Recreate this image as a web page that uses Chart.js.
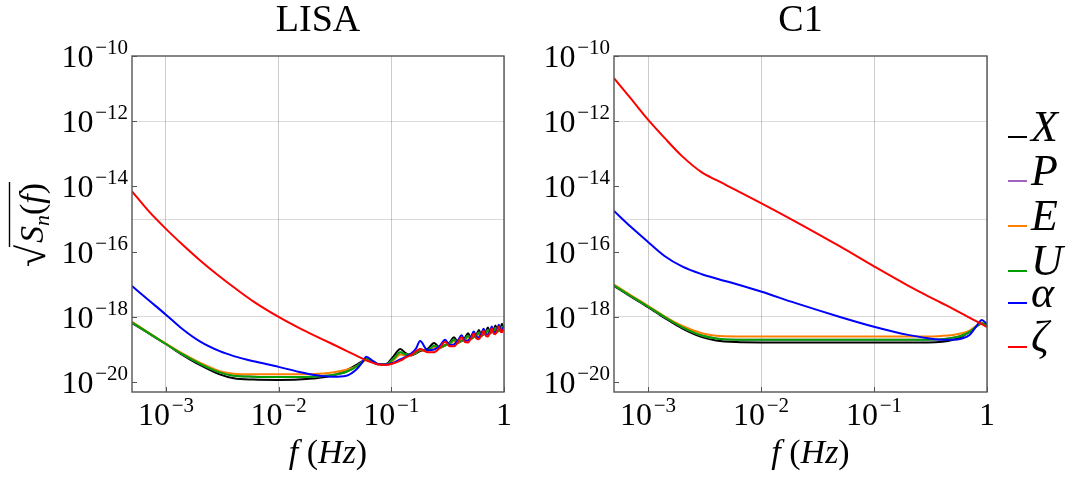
<!DOCTYPE html>
<html>
<head>
<meta charset="utf-8">
<script src="https://cdn.jsdelivr.net/npm/chart.js@4.4.1/dist/chart.umd.min.js"></script>
<style>
  html, body { margin: 0; padding: 0; background: #fff; }
  #wrap { position: relative; width: 1080px; height: 479px; }
  #wrap canvas { position: absolute; top: 0; }
</style>
</head>
<body>
<div id="wrap">
  <canvas id="lisa" width="540" height="479" style="left:0"></canvas>
  <canvas id="c1" width="540" height="479" style="left:540px"></canvas>
</div>
<script>
// TDI noise curves, values are log10 of sqrt(Sn(f))
const seriesNames = ['X', 'P', 'E', 'U', 'α', 'ζ'];
const seriesColors = ['#000000', '#a064bc', '#ff8000', '#00a000', '#0000ff', '#ff0000'];

const lisaFreq = [5e-4, 7e-4, 1e-3, 1.4e-3, 2e-3, 3e-3, 4e-3, 6e-3, 1e-2, 1.5e-2, 2e-2, 3e-2, 4e-2, 5e-2,
  0.055, 0.06, 0.068, 0.075, 0.09, 0.105, 0.12, 0.135, 0.15, 0.165, 0.18, 0.21, 0.24, 0.27, 0.30, 0.33,
  0.36, 0.39, 0.42, 0.45, 0.48, 0.51, 0.54, 0.57, 0.60, 0.63, 0.66, 0.69, 0.72, 0.75, 0.78, 0.81, 0.84,
  0.87, 0.90, 0.93, 0.96, 0.99, 1.0];
const lisaX = [-18.19, -18.50, -18.83, -19.16, -19.47, -19.76, -19.88, -19.92, -19.93, -19.92, -19.89, -19.80, -19.63, -19.45,
  -19.36, -19.30, -19.38, -19.45, -19.44, -19.20, -18.98, -19.12, -19.18, -19.12, -19.05, -18.98, -18.80, -18.94, -18.88, -18.78,
  -18.62, -18.78, -18.74, -18.64, -18.50, -18.66, -18.62, -18.54, -18.40, -18.57, -18.54, -18.46, -18.32, -18.50, -18.47, -18.40, -18.26,
  -18.44, -18.41, -18.35, -18.21, -18.38, -18.36];
const lisaU = [-18.17, -18.49, -18.83, -19.14, -19.43, -19.70, -19.80, -19.83, -19.84, -19.84, -19.83, -19.78, -19.68, -19.50,
  -19.38, -19.28, -19.36, -19.44, -19.45, -19.28, -19.08, -19.15, -19.15, -19.10, -19.00, -19.02, -18.88, -18.94, -18.86, -18.82,
  -18.70, -18.79, -18.72, -18.68, -18.58, -18.67, -18.60, -18.57, -18.48, -18.58, -18.52, -18.50, -18.40, -18.50, -18.45, -18.44, -18.34,
  -18.45, -18.40, -18.39, -18.30, -18.39, -18.38];
const lisaP = lisaU; // P runs under U
const lisaE = [-18.15, -18.48, -18.82, -19.12, -19.40, -19.66, -19.74, -19.76, -19.76, -19.76, -19.75, -19.70, -19.62, -19.50,
  -19.40, -19.32, -19.38, -19.45, -19.45, -19.32, -19.15, -19.18, -19.16, -19.10, -19.02, -19.04, -18.92, -18.96, -18.86, -18.84,
  -18.74, -18.80, -18.72, -18.70, -18.62, -18.68, -18.60, -18.59, -18.52, -18.59, -18.52, -18.52, -18.44, -18.51, -18.46, -18.46, -18.38,
  -18.46, -18.41, -18.41, -18.34, -18.40, -18.40];
const lisaAlpha = [-17.05, -17.48, -17.93, -18.37, -18.75, -19.05, -19.20, -19.36, -19.53, -19.68, -19.77, -19.83, -19.80, -19.58,
  -19.40, -19.22, -19.34, -19.43, -19.46, -19.40, -19.30, -19.22, -19.12, -18.98, -18.74, -19.02, -19.00, -18.88, -18.70, -18.86,
  -18.84, -18.72, -18.56, -18.73, -18.72, -18.60, -18.45, -18.62, -18.62, -18.51, -18.36, -18.54, -18.54, -18.44, -18.29, -18.47, -18.47,
  -18.38, -18.24, -18.41, -18.41, -18.32, -18.34];
const lisaZeta = [-14.15, -14.75, -15.30, -15.78, -16.26, -16.76, -17.09, -17.53, -18.00, -18.33, -18.54, -18.83, -19.04, -19.20,
  -19.27, -19.33, -19.40, -19.45, -19.47, -19.42, -19.34, -19.24, -19.16, -19.06, -18.98, -19.08, -19.08, -18.94, -18.76, -18.90,
  -18.90, -18.78, -18.62, -18.77, -18.78, -18.66, -18.51, -18.66, -18.68, -18.57, -18.42, -18.58, -18.60, -18.49, -18.35, -18.51, -18.53,
  -18.43, -18.29, -18.45, -18.47, -18.38, -18.40];

const c1Freq = [5e-4, 7e-4, 1e-3, 1.4e-3, 2e-3, 3e-3, 4e-3, 6e-3, 1e-2, 2e-2, 5e-2, 0.1, 0.2, 0.3, 0.4, 0.5,
  0.6, 0.7, 0.8, 0.9, 1.0];
const c1X = [-17.05, -17.37, -17.70, -18.03, -18.35, -18.62, -18.72, -18.77, -18.78, -18.78, -18.78, -18.78, -18.78, -18.78, -18.76, -18.70,
  -18.60, -18.46, -18.30, -18.20, -18.26];
const c1U = [-17.03, -17.35, -17.68, -18.00, -18.31, -18.57, -18.66, -18.70, -18.70, -18.70, -18.70, -18.70, -18.70, -18.70, -18.68, -18.64,
  -18.57, -18.46, -18.30, -18.19, -18.24];
const c1P = c1U;
const c1E = [-17.01, -17.33, -17.66, -17.98, -18.27, -18.50, -18.58, -18.60, -18.60, -18.60, -18.60, -18.60, -18.60, -18.60, -18.58, -18.55,
  -18.50, -18.42, -18.28, -18.18, -18.22];
const c1Alpha = [-14.75, -15.23, -15.70, -16.13, -16.45, -16.69, -16.82, -16.99, -17.22, -17.57, -18.00, -18.30, -18.55, -18.65, -18.70, -18.70,
  -18.66, -18.55, -18.30, -18.09, -18.22];
const c1Zeta = [-10.68, -11.29, -11.95, -12.51, -13.07, -13.57, -13.80, -14.11, -14.51, -15.07, -15.84, -16.45, -17.04, -17.36, -17.58, -17.75,
  -17.90, -18.02, -18.13, -18.22, -18.31];

// axis decorations (powers of ten)
const xTickExps = [-3, -2, -1, 0];
const yTickExps = [-10, -12, -14, -16, -18, -20];
const yGridExps = [-12, -15, -18];
const legendRowY = [137, 181, 226, 271, 303, 347];

const SERIF = '"Liberation Serif", "Times New Roman", "DejaVu Serif", serif';

function drawRuns(ctx, runs, x, y) {
  // runs: [text, font, dy]
  let cx = x;
  runs.forEach(([t, font, dy]) => {
    ctx.font = font;
    ctx.fillText(t, cx, y + (dy || 0));
    cx += ctx.measureText(t).width;
  });
  return cx;
}
function runsWidth(ctx, runs) {
  return runs.reduce((w, [t, font]) => { ctx.font = font; return w + ctx.measureText(t).width; }, 0);
}
function powRuns(e) {
  if (e === 0) return [['1', `32px ${SERIF}`, 0]];
  return [['10', `32px ${SERIF}`, 0], ['\u200A\u2212' + Math.abs(e), `21px ${SERIF}`, -13]];
}

const panelDecor = {
  id: 'panelDecor',
  afterDraw(chart, args, opts) {
    const { ctx, chartArea: a, scales: { x, y } } = chart;
    ctx.save();
    ctx.fillStyle = '#000';
    ctx.textBaseline = 'alphabetic';
    ctx.textAlign = 'left';

    // frame
    ctx.strokeStyle = '#555';
    ctx.lineWidth = 1.4;
    ctx.strokeRect(a.left, a.top, a.right - a.left, a.bottom - a.top);

    // inward ticks
    ctx.beginPath();
    yTickExps.forEach(e => {
      const py = Math.round(y.getPixelForValue(10 ** e)) + 0.5;
      ctx.moveTo(a.left, py); ctx.lineTo(a.left + 5, py);
    });
    xTickExps.forEach(e => {
      const px = Math.round(x.getPixelForValue(10 ** e)) + 0.5;
      ctx.moveTo(px, a.bottom); ctx.lineTo(px, a.bottom - 5);
    });
    ctx.lineWidth = 1;
    ctx.stroke();

    // y tick labels
    yTickExps.forEach(e => {
      const py = y.getPixelForValue(10 ** e);
      const runs = powRuns(e);
      const w = runsWidth(ctx, runs);
      drawRuns(ctx, runs, a.left - 4 - w, py + 11);
    });
    // x tick labels
    xTickExps.forEach(e => {
      const px = x.getPixelForValue(10 ** e);
      const runs = powRuns(e);
      const w = runsWidth(ctx, runs);
      drawRuns(ctx, runs, px - w / 2, 425);
    });

    const mid = (a.left + a.right) / 2;
    // title
    ctx.font = `38px ${SERIF}`;
    ctx.textAlign = 'center';
    ctx.fillText(opts.title, mid, 31);
    ctx.textAlign = 'left';

    // x axis title
    const xt = [['f', `italic 34px ${SERIF}`], [' (', `34px ${SERIF}`], ['Hz', `italic 34px ${SERIF}`], [')', `34px ${SERIF}`]];
    drawRuns(ctx, xt, mid + 10 - runsWidth(ctx, xt) / 2, 463);

    if (opts.yTitle) {
      ctx.save();
      ctx.translate(43, 225);
      ctx.rotate(-Math.PI / 2);
      const rad = [['\u221A', `40px ${SERIF}`, 2]];
      const body = [['S', `italic 34px ${SERIF}`], ['n', `italic 22px ${SERIF}`, 6], ['(', `34px ${SERIF}`], ['f', `italic 34px ${SERIF}`], [')', `34px ${SERIF}`]];
      const total = runsWidth(ctx, rad) + runsWidth(ctx, body) + 2;
      const x0 = -total / 2;
      const xb = drawRuns(ctx, rad, x0, 0) - 1;
      const xe = drawRuns(ctx, body, xb + 3, 0);
      ctx.strokeStyle = '#000';
      ctx.lineWidth = 1.4;
      ctx.beginPath();
      ctx.moveTo(xb - 1, -33.5); ctx.lineTo(xe + 1, -33.5);
      ctx.stroke();
      ctx.restore();
    }

    if (opts.legend) {
      const off = chart.canvas.offsetLeft;
      seriesNames.forEach((name, i) => {
        const ly = legendRowY[i];
        ctx.strokeStyle = seriesColors[i];
        ctx.lineWidth = 2;
        ctx.beginPath();
        ctx.moveTo(1008 - off, ly); ctx.lineTo(1027 - off, ly);
        ctx.stroke();
        ctx.font = `italic 44px ${SERIF}`;
        ctx.fillText(name, 1031 - off, ly + 4);
      });
    }
    ctx.restore();
  }
};

function makePanel(id, title, freq, series, padding, extra) {
  const datasets = series.map((vals, i) => ({
    label: seriesNames[i],
    data: freq.map((f, k) => ({ x: f, y: 10 ** vals[k] })),
    borderColor: seriesColors[i],
    borderWidth: 2,
    pointRadius: 0,
    showLine: true,
    fill: false,
    cubicInterpolationMode: 'monotone',
    order: seriesNames.length - i
  }));
  return new Chart(document.getElementById(id), {
    type: 'scatter',
    data: { datasets },
    options: {
      responsive: false,
      animation: false,
      devicePixelRatio: 1,
      layout: { padding },
      plugins: {
        legend: { display: false },
        tooltip: { enabled: false },
        panelDecor: Object.assign({ title }, extra)
      },
      scales: {
        x: {
          type: 'logarithmic', min: 5e-4, max: 1,
          ticks: { display: false },
          border: { display: false },
          grid: { color: 'rgba(0,0,0,0.2)', lineWidth: 1, drawTicks: false },
          afterBuildTicks: s => { s.ticks = xTickExps.map(e => ({ value: 10 ** e })); },
          afterFit: s => { s.height = 0; }
        },
        y: {
          type: 'logarithmic', min: 5e-21, max: 1e-10,
          ticks: { display: false },
          border: { display: false },
          grid: { color: 'rgba(0,0,0,0.14)', lineWidth: 1, drawTicks: false },
          afterBuildTicks: s => { s.ticks = yGridExps.map(e => ({ value: 10 ** e })); },
          afterFit: s => { s.width = 0; }
        }
      }
    },
    plugins: [panelDecor]
  });
}

makePanel('lisa', 'LISA', lisaFreq, [lisaX, lisaP, lisaE, lisaU, lisaAlpha, lisaZeta],
  { left: 132, right: 36, top: 56, bottom: 87 }, { yTitle: true });
makePanel('c1', 'C1', c1Freq, [c1X, c1P, c1E, c1U, c1Alpha, c1Zeta],
  { left: 74, right: 93, top: 56, bottom: 87 }, { legend: true });
</script>
</body>
</html>
